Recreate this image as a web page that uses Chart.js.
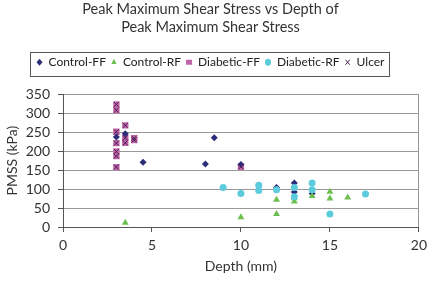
<!DOCTYPE html>
<html>
<head>
<meta charset="utf-8">
<script src="https://cdn.jsdelivr.net/npm/chart.js@4/dist/chart.umd.min.js"></script>
<style>
  html, body { margin: 0; padding: 0; background: #fff; }
  #wrap { width: 432px; height: 281px; }
</style>
</head>
<body>
<div id="wrap"><canvas id="myChart" width="432" height="281"></canvas></div>
<script>
// Dados (profundidade em mm, PMSS em kPa)
const titleLines = ['Peak Maximum Shear Stress vs Depth of', 'Peak Maximum Shear Stress'];
const xTitle = 'Depth (mm)';
const yTitle = 'PMSS (kPa)';

const controlFFDepth = [3, 3.5, 4.5, 8, 8.5, 10, 12, 13, 13, 14];
const controlFFPmss  = [237, 246, 171, 166, 235, 165, 104, 116, 92, 88];

const controlRFDepth = [3.5, 10, 12, 12, 13, 13, 14, 15, 15, 16];
const controlRFPmss  = [11, 26, 72, 34, 76, 67, 82, 93, 75, 78];

const diabeticFFDepth = [3, 3, 3, 3, 3, 3, 3, 3.5, 3.5, 3.5, 4, 4, 10];
const diabeticFFPmss  = [323, 308, 251, 221, 199, 187, 158, 268, 235, 222, 234, 229, 159];

const diabeticRFDepth = [9, 10, 11, 11, 12, 13, 13, 14, 14, 15, 17];
const diabeticRFPmss  = [104, 88, 110, 96, 98, 104, 80, 116, 98, 34, 87];

// Úlcera: marcados sobre os pontos Diabetic-FF
const ulcerDepth = [3, 3, 3, 3, 3, 3, 3, 3.5, 3.5, 3.5, 4, 4, 10];
const ulcerPmss  = [323, 308, 251, 221, 199, 187, 158, 268, 235, 222, 234, 229, 159];

const xTicks = [0, 5, 10, 15, 20];
const yTicks = [0, 50, 100, 150, 200, 250, 300, 350];

function toPoints(xs, ys) {
    return xs.map((x, i) => ({ x: x, y: ys[i] }));
}

const FONT = 'Lato, "Open Sans", sans-serif';

// Moldura em volta da legenda
const legendBox = {
    id: 'legendBox',
    afterDraw(chart) {
        const lg = chart.legend;
        if (!lg || !lg.lineWidths) return;
        const w = lg.lineWidths[0];
        const left = lg.left + (lg.width - w) / 2 - 4;
        const top = lg.top + 1;
        const c = chart.ctx;
        c.save();
        c.strokeStyle = '#555';
        c.lineWidth = 1;
        c.strokeRect(Math.round(left) + 0.5, Math.round(top) + 0.5, Math.round(w + 6), Math.round(lg.height - 3));
        c.restore();
    }
};

// Espaço entre a legenda e a área do gráfico
const spacer = {
    id: 'spacer',
    beforeInit(chart) {
        Chart.layouts.addBox(chart, {
            position: 'top',
            weight: 500,
            fullSize: true,
            options: {},
            isHorizontal() { return true; },
            update(maxWidth) { this.width = maxWidth; this.height = 16; return this.height; },
            draw() {}
        });
    }
};

const ctx = document.getElementById('myChart').getContext('2d');
new Chart(ctx, {
    type: 'scatter',
    data: {
        datasets: [
            {
                label: 'Control-FF',
                data: toPoints(controlFFDepth, controlFFPmss),
                pointStyle: 'rectRot',
                pointRadius: 3.5,
                backgroundColor: '#2b2d78',
                borderColor: '#2b2d78',
                borderWidth: 0,
                order: 4
            },
            {
                label: 'Control-RF',
                data: toPoints(controlRFDepth, controlRFPmss),
                pointStyle: 'triangle',
                pointRadius: 4,
                backgroundColor: '#6cbf4e',
                borderColor: '#6cbf4e',
                borderWidth: 0,
                order: 3
            },
            {
                label: 'Diabetic-FF',
                data: toPoints(diabeticFFDepth, diabeticFFPmss),
                pointStyle: 'rect',
                pointRadius: 4.5,
                backgroundColor: '#c064aa',
                borderColor: '#c064aa',
                borderWidth: 0,
                order: 5
            },
            {
                label: 'Diabetic-RF',
                data: toPoints(diabeticRFDepth, diabeticRFPmss),
                pointStyle: 'circle',
                pointRadius: 3.5,
                backgroundColor: '#5ccbdc',
                borderColor: '#5ccbdc',
                borderWidth: 0,
                order: 2
            },
            {
                label: 'Ulcer',
                data: toPoints(ulcerDepth, ulcerPmss),
                pointStyle: 'crossRot',
                pointRadius: 3.5,
                backgroundColor: '#4a2050',
                borderColor: '#4a2050',
                borderWidth: 1,
                order: 1
            }
        ]
    },
    options: {
        responsive: false,
        animation: false,
        layout: { padding: { left: 0, right: 11, top: 0, bottom: 3 } },
        scales: {
            x: {
                type: 'linear',
                min: 0,
                max: 20,
                afterBuildTicks: axis => { axis.ticks = xTicks.map(v => ({ value: v })); },
                afterFit: axis => { axis.height = 51; },
                ticks: { color: '#333', font: { family: FONT, size: 14 }, padding: 5, autoSkip: false },
                grid: {
                    color: c => (c.tick && c.tick.value === 20) ? '#999' : 'rgba(0,0,0,0)',
                    tickColor: '#555',
                    tickLength: 5
                },
                border: { color: '#555', width: 1 },
                title: { display: true, text: xTitle, color: '#333', font: { family: FONT, size: 14 }, padding: { top: 0, bottom: 3 } }
            },
            y: {
                type: 'linear',
                min: 0,
                max: 350,
                afterBuildTicks: axis => { axis.ticks = yTicks.map(v => ({ value: v })); },
                afterFit: axis => { axis.width = 63; },
                ticks: { color: '#333', font: { family: FONT, size: 14 }, padding: 8, autoSkip: false },
                grid: { color: '#999', tickColor: '#555', tickLength: 5 },
                border: { color: '#555', width: 1 },
                title: { display: true, text: yTitle, color: '#333', font: { family: FONT, size: 14 }, padding: { top: 4, bottom: 0 } }
            }
        },
        plugins: {
            title: {
                display: true,
                text: titleLines,
                color: '#333',
                font: { family: FONT, size: 14.5, weight: 'normal', lineHeight: 1.25 },
                padding: { top: 0, bottom: 15 }
            },
            legend: {
                position: 'top',
                labels: {
                    color: '#222',
                    font: { family: FONT, size: 12 },
                    usePointStyle: true,
                    pointStyleWidth: 6,
                    boxHeight: 5,
                    padding: 5,
                    sort: (a, b) => a.datasetIndex - b.datasetIndex
                }
            },
            tooltip: { enabled: false }
        }
    },
    plugins: [legendBox, spacer]
});
</script>
</body>
</html>
